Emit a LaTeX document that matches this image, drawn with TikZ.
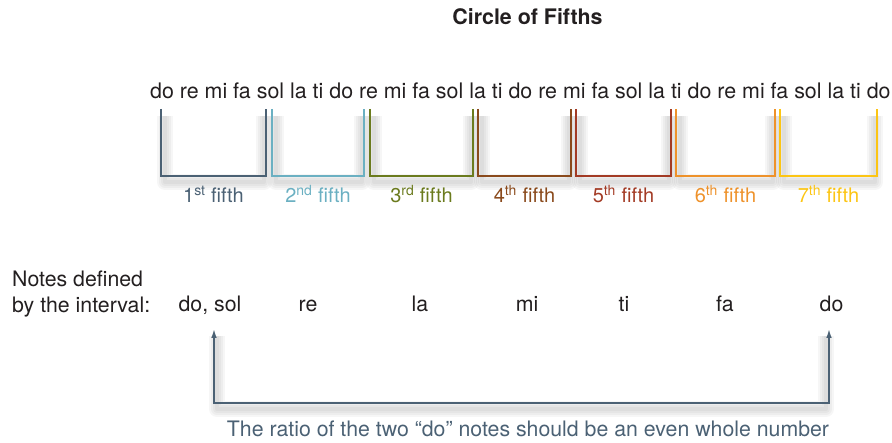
\documentclass[tikz,border=0pt]{standalone}
\usepackage{fontspec}
\setmainfont{TeX Gyre Heros}
\usetikzlibrary{arrows.meta}
\definecolor{txt}{HTML}{231F20}
\definecolor{slate}{HTML}{4B6174}
\definecolor{cA}{HTML}{4B6174}
\definecolor{cB}{HTML}{6BB0C2}
\definecolor{cC}{HTML}{6B7B1E}
\definecolor{cD}{HTML}{8A4A1C}
\definecolor{cE}{HTML}{A33B25}
\definecolor{cF}{HTML}{EE922B}
\definecolor{cG}{HTML}{FCC514}
\tikzset{
  lbl/.style={font=\fontsize{21.3}{25}\selectfont, text=txt, inner sep=0pt, anchor=base},
  fifthlbl/.style={font=\fontsize{20}{24}\selectfont, inner sep=0pt, anchor=base},
  brk/.style={line width=2.6pt},
  shd/.style={line width=9pt, draw=black, opacity=0.035, line join=round},
  arr/.style={line width=2.4pt, draw=slate, {Latex[length=10pt,width=5.5pt]}-{Latex[length=10pt,width=5.5pt]}}
}
\begin{document}
\begin{tikzpicture}[x=1pt,y=-1pt]
\useasboundingbox (0,0) rectangle (892,443);
% title
\node[lbl, font=\fontsize{21.4}{25}\selectfont\bfseries] (title) at (527.5,25) {Circle of Fifths};
% syllable row
\node[lbl, anchor=base west, font=\fontsize{21.4}{25}\selectfont] (row) at (150,99)
  {do re mi fa sol la ti do re mi fa sol la ti do re mi fa sol la ti do re mi fa sol la ti do};
% brackets with soft shadows
\foreach \l/\r/\c/\n/\s in {161/266/cA/1/st, 272/364/cB/2/nd, 370/473/cC/3/rd, 478/571/cD/4/th, 576/671/cE/5/th, 676/775/cF/6/th, 780/877/cG/7/th}{
  \foreach \w in {16,12,8,4}{
    \draw[shd, line width=\w pt] (\l+4,116) -- (\l+4,182) -- (\r-2,182) -- (\r-2,116);
  }
  \draw[brk, draw=\c] (\l,109) -- (\l,176) -- (\r,176) -- (\r,109);
  \node[fifthlbl, text=\c] (f\n) at ({(\l+\r)/2},203) {\n\textsuperscript{\s} fifth};
}
% notes defined
\node[lbl, anchor=base west] (nd1) at (12,287) {Notes defined};
\node[lbl, anchor=base west] (nd2) at (12,313) {by the interval:};
\node[lbl] (n1) at (210,312) {do, sol};
\node[lbl] (n2) at (308,312) {re};
\node[lbl] (n3) at (420,312) {la};
\node[lbl] (n4) at (527,312) {mi};
\node[lbl] (n5) at (624,312) {ti};
\node[lbl] (n6) at (725,312) {fa};
\node[lbl] (n7) at (831.5,312) {do};
% arrow
\coordinate (a1) at (214,328);
\coordinate (a2) at (829,328);
\coordinate (b1) at (214,403);
\coordinate (b2) at (829,403);
\foreach \w in {16,12,8,4}{
  \draw[shd, line width=\w pt] ([xshift=3pt,yshift=-8pt]a1) -- ([xshift=3pt,yshift=-6pt]b1) -- ([xshift=-3pt,yshift=-6pt]b2) -- ([xshift=-3pt,yshift=-8pt]a2);
}
\draw[arr] (a1) -- (b1) -- (b2) -- (a2);
\node[lbl, text=slate] (cap) at (528,437) {The ratio of the two “do” notes should be an even whole number};
\end{tikzpicture}
\end{document}
